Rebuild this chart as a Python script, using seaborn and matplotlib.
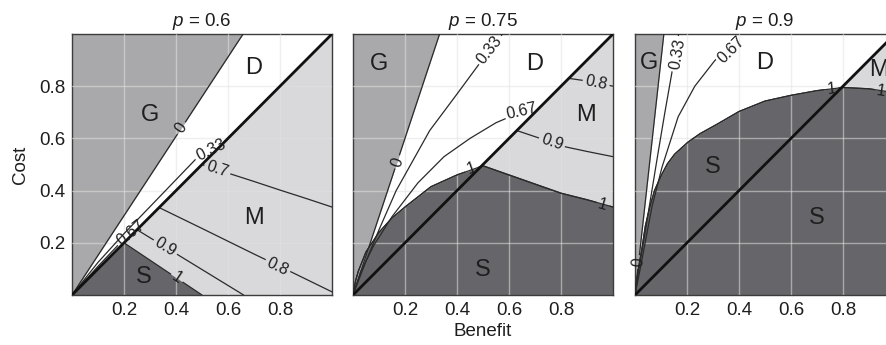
import numpy as np
import pandas as pd
import matplotlib.pyplot as plt
from matplotlib.path import Path
import seaborn as sns

# ---- values (x = benefit, y = cost) ----
p_values = [0.6, 0.75, 0.9]
diag = [0.0, 1.0]

# p = 0.6
p06_g_b = [0.0, 0.658]                      # contour 0 = edge of G
p06_g_c = [0.0, 1.0]
p06_s_b = [0.0, 0.2, 0.5]                   # contour 1 = edge of S
p06_s_c = [0.0, 0.2, 0.0]
p06_c033_b = [0.0, 0.1, 0.2, 0.35, 0.49, 0.58]
p06_c033_c = [0.0, 0.125, 0.235, 0.39, 0.535, 0.58]
p06_c067_b = [0.0, 0.1, 0.2, 0.27]
p06_c067_c = [0.0, 0.11, 0.215, 0.27]
p06_c07_b = [0.5, 0.6, 0.7, 0.8, 0.9, 1.0]
p06_c07_c = [0.5, 0.467, 0.435, 0.402, 0.37, 0.337]
p06_c08_b = [0.335, 0.5, 0.7, 0.85, 1.0]
p06_c08_c = [0.335, 0.255, 0.157, 0.085, 0.012]
p06_c09_b = [0.25, 0.45, 0.66]
p06_c09_c = [0.25, 0.128, 0.0]

# p = 0.75
p075_g_b = [0.0, 0.333]
p075_g_c = [0.0, 1.0]
p075_s_b = [0.0, 0.01, 0.02, 0.05, 0.1, 0.15, 0.2, 0.3, 0.4, 0.5, 0.6, 0.7, 0.8, 0.9, 1.0]
p075_s_c = [0.0, 0.055, 0.09, 0.165, 0.24, 0.295, 0.337, 0.415, 0.46, 0.495, 0.46, 0.425, 0.39, 0.365, 0.337]
p075_c033_b = [0.0, 0.05, 0.1, 0.166, 0.295, 0.4, 0.5, 0.575]
p075_c033_c = [0.0, 0.13, 0.25, 0.4, 0.63, 0.77, 0.905, 1.0]
p075_c067_b = [0.0, 0.03, 0.08, 0.15, 0.25, 0.35, 0.45, 0.55, 0.62, 0.71]
p075_c067_c = [0.0, 0.09, 0.19, 0.3, 0.43, 0.53, 0.6, 0.66, 0.69, 0.71]
p075_c09_b = [0.63, 0.72, 0.82, 0.9, 1.0]
p075_c09_c = [0.63, 0.6, 0.567, 0.55, 0.53]
p075_c08_b = [0.83, 0.9, 1.0]
p075_c08_c = [0.83, 0.82, 0.80]

# p = 0.9
p09_g_b = [0.0, 0.111]
p09_g_c = [0.0, 1.0]
p09_s_b = [0.0, 0.004, 0.01, 0.018, 0.027, 0.04, 0.057, 0.075, 0.102, 0.125, 0.153, 0.203,
           0.25, 0.317, 0.4, 0.5, 0.6, 0.7, 0.8, 0.9, 1.0]
p09_s_c = [0.0, 0.04, 0.08, 0.13, 0.18, 0.265, 0.337, 0.4, 0.46, 0.503, 0.54, 0.585,
           0.618, 0.655, 0.703, 0.743, 0.765, 0.783, 0.795, 0.79, 0.775]
p09_c033_b = [0.0, 0.015, 0.038, 0.065, 0.088, 0.115, 0.146, 0.168]
p09_c033_c = [0.0, 0.1, 0.235, 0.4, 0.54, 0.7, 0.875, 1.0]
p09_c067_b = [0.0, 0.02, 0.065, 0.104, 0.166, 0.23, 0.306, 0.4]
p09_c067_c = [0.0, 0.1, 0.337, 0.49, 0.683, 0.8, 0.897, 0.99]

# ---- styling ----
sns.set_theme(style="white")
plt.rcParams['font.family'] = ['Liberation Sans', 'DejaVu Sans']
plt.rcParams['mathtext.fontset'] = 'custom'
plt.rcParams['mathtext.it'] = 'Liberation Sans:italic'
plt.rcParams['mathtext.rm'] = 'Liberation Sans'

COL_G, COL_M, COL_S = '#a9a9ab', '#d9d9db', '#66666a'
LINE = '#2a2a2a'
TXT = '#1e1e1e'

fig = plt.figure(figsize=(8.86, 3.45), dpi=100)
W, H = 886, 345
lefts = [72, 353, 635]

panels = [
    dict(g=(p06_g_b, p06_g_c), s=(p06_s_b, p06_s_c),
         lines=[(p06_g_b, p06_g_c, '0', (0.42, 0.64)),
                (p06_s_b[1:], p06_s_c[1:], '1', (0.404, 0.066)),
                (p06_c033_b, p06_c033_c, '0.33', (0.535, 0.555)),
                (p06_c067_b, p06_c067_c, '0.67', (0.225, 0.24)),
                (p06_c07_b, p06_c07_c, '0.7', (0.56, 0.483)),
                (p06_c08_b, p06_c08_c, '0.8', (0.79, 0.108)),
                (p06_c09_b, p06_c09_c, '0.9', (0.36, 0.185))],
         letters=[('G', 0.30, 0.69), ('D', 0.70, 0.87), ('M', 0.70, 0.295), ('S', 0.275, 0.07)]),
    dict(g=(p075_g_b, p075_g_c), s=(p075_s_b, p075_s_c),
         lines=[(p075_g_b, p075_g_c, '0', (0.17, 0.51)),
                (p075_s_b, p075_s_c, '1', (0.455, 0.485)),
                (p075_s_b, p075_s_c, '1', (0.96, 0.345)),
                (p075_c033_b, p075_c033_c, '0.33', (0.525, 0.94)),
                (p075_c067_b, p075_c067_c, '0.67', (0.65, 0.705)),
                (p075_c09_b, p075_c09_c, '0.9', (0.765, 0.585)),
                (p075_c08_b, p075_c08_c, '0.8', (0.935, 0.812))],
         letters=[('G', 0.10, 0.885), ('D', 0.70, 0.885), ('M', 0.895, 0.69), ('S', 0.50, 0.096)]),
    dict(g=(p09_g_b, p09_g_c), s=(p09_s_b, p09_s_c),
         lines=[(p09_g_b, p09_g_c, '0', (0.014, 0.126)),
                (p09_s_b, p09_s_c, '1', (0.755, 0.79)),
                (p09_s_b, p09_s_c, '1', (0.946, 0.78)),
                (p09_c033_b, p09_c033_c, '0.33', (0.163, 0.923)),
                (p09_c067_b, p09_c067_c, '0.67', (0.37, 0.94))],
         letters=[('G', 0.055, 0.89), ('D', 0.50, 0.89), ('S', 0.30, 0.49),
                  ('S', 0.70, 0.295), ('M', 0.94, 0.862)]),
]


def seg_angle(ax, b, c, at):
    """angle (deg, screen space) of the polyline segment nearest to `at`"""
    pts = ax.transData.transform(np.column_stack([b, c]))
    p = ax.transData.transform(at)
    best, ang = np.inf, 0.0
    for a0, a1 in zip(pts[:-1], pts[1:]):
        d = a1 - a0
        t = np.clip(np.dot(p - a0, d) / max(np.dot(d, d), 1e-9), 0, 1)
        dist = np.hypot(*(a0 + t * d - p))
        if dist < best:
            best, ang = dist, np.degrees(np.arctan2(d[1], d[0]))
    if ang > 90:
        ang -= 180
    if ang <= -90:
        ang += 180
    return ang


def gapped_clip(holes):
    # axes rectangle with circular holes (opposite winding) around labels
    verts = [(-0.2, -0.2), (1.2, -0.2), (1.2, 1.2), (-0.2, 1.2), (-0.2, -0.2)]
    codes = [Path.MOVETO, Path.LINETO, Path.LINETO, Path.LINETO, Path.CLOSEPOLY]
    th = np.linspace(0, -2 * np.pi, 48)
    for x, y, r in holes:
        ring = list(zip(x + r * np.cos(th), y + r * np.sin(th)))
        verts += ring
        codes += [Path.MOVETO] + [Path.LINETO] * (len(ring) - 2) + [Path.CLOSEPOLY]
    return Path(verts, codes)


renderer = fig.canvas.get_renderer()

for i, (p, spec) in enumerate(zip(p_values, panels)):
    ax = fig.add_axes([lefts[i] / W, 50 / H, 260 / W, 261 / H])
    ax.set_xlim(0, 1)
    ax.set_ylim(0, 1)
    ax.set_facecolor('white')

    # regions: M below the diagonal, S under its edge, G left of its edge
    ax.fill_between(diag, [0, 0], diag, color=COL_M, lw=0, zorder=1)
    ax.fill_between(spec['s'][0], 0, spec['s'][1], color=COL_S, lw=0, zorder=1)
    ax.fill_betweenx(spec['g'][1], 0, spec['g'][0], color=COL_G, lw=0, zorder=1)

    ax.set_xticks([0.2, 0.4, 0.6, 0.8])
    ax.set_yticks([0.2, 0.4, 0.6, 0.8])
    ax.set_xticklabels(['0.2', '0.4', '0.6', '0.8'])
    ax.set_yticklabels(['0.2', '0.4', '0.6', '0.8'] if i == 0 else [])
    ax.tick_params(length=0, labelsize=13.5, pad=5, colors=TXT)
    ax.grid(True, color='#e2e2e2', lw=1.0, alpha=0.55)
    ax.set_axisbelow(False)
    for sp in ax.spines.values():
        sp.set_color('#3c3c3c')
        sp.set_linewidth(1.0)

    # contour lines with inline labels
    for b, c, lab, at in spec['lines']:
        sns.lineplot(x=b, y=c, sort=False, estimator=None, color=LINE, lw=0.9,
                     ax=ax, zorder=3)
        line = ax.lines[-1]
        txt = ax.text(at[0], at[1], lab, fontsize=11.5, color=TXT, ha='center',
                      va='center', rotation_mode='anchor', zorder=5)
        wpx = txt.get_window_extent(renderer).width
        txt.set_rotation(seg_angle(ax, b, c, at))
        r = (wpx / 2 + 2.5) / 260
        line.set_clip_path(gapped_clip([(at[0], at[1], r)]), ax.transData)

    # cost = benefit
    sns.lineplot(x=diag, y=diag, color='#111111', lw=2.0, ax=ax, zorder=4)

    for lab, x, y in spec['letters']:
        ax.text(x, y, lab, fontsize=17, color=TXT, ha='center', va='center', zorder=5)

    ax.set_title(r'$p$ = ' + str(p), fontsize=13.5, pad=6, color=TXT)
    if i == 0:
        ax.set_ylabel('Cost', fontsize=13.5, labelpad=7, color=TXT)
    if i == 1:
        ax.set_xlabel('Benefit', fontsize=13.5, labelpad=3, color=TXT)

fig.savefig('out.png', dpi=100)
